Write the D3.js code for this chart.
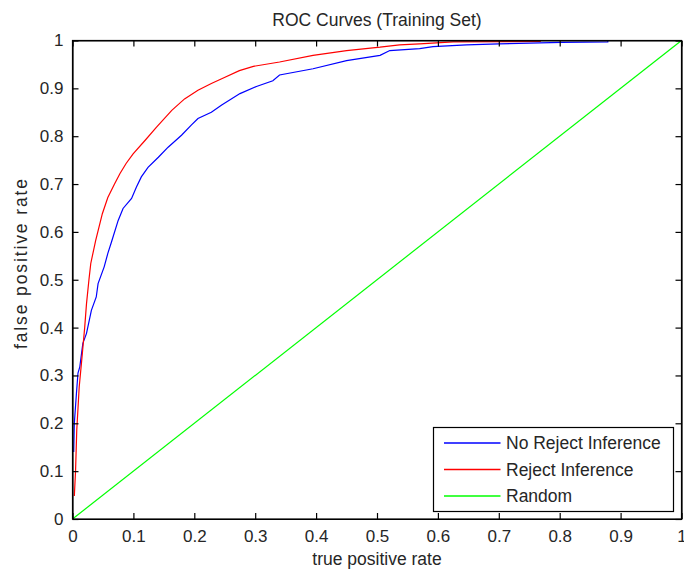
<!DOCTYPE html>
<html>
<head>
<meta charset="utf-8">
<script src="https://cdn.jsdelivr.net/npm/d3@7/dist/d3.min.js"></script>
<style>
  body { margin: 0; background: #fff; }
  svg text { font-family: "Liberation Sans", Arial, sans-serif; fill: #262626; }
</style>
</head>
<body>
<div id="chart"></div>
<script>
// ROC curve points (x = "true positive rate", y = "false positive rate")
const noRejectX = [0.002, 0.003, 0.0065, 0.009, 0.012, 0.017, 0.023, 0.031, 0.039, 0.042, 0.052, 0.058, 0.064, 0.075, 0.083, 0.097, 0.105, 0.113, 0.124, 0.141, 0.157, 0.179, 0.195, 0.206, 0.228, 0.245, 0.275, 0.302, 0.329, 0.340, 0.395, 0.45, 0.505, 0.521, 0.57, 0.592, 0.647, 0.70, 0.803, 0.879, 0.879, 1];
const noRejectY = [0.14, 0.20, 0.263, 0.305, 0.318, 0.367, 0.388, 0.436, 0.464, 0.492, 0.527, 0.555, 0.579, 0.624, 0.649, 0.67, 0.694, 0.715, 0.735, 0.756, 0.777, 0.802, 0.823, 0.837, 0.850, 0.865, 0.889, 0.904, 0.916, 0.928, 0.941, 0.958, 0.969, 0.979, 0.983, 0.987, 0.991, 0.993, 0.996, 0.997, 1, 1];

const rejectX = [0.003, 0.005, 0.007, 0.011, 0.015, 0.020, 0.023, 0.027, 0.030, 0.038, 0.049, 0.058, 0.069, 0.078, 0.088, 0.0995, 0.119, 0.138, 0.163, 0.184, 0.206, 0.228, 0.245, 0.274, 0.297, 0.340, 0.395, 0.45, 0.505, 0.537, 0.57, 0.625, 0.768, 0.768, 1];
const rejectY = [0.048, 0.10, 0.186, 0.276, 0.33, 0.40, 0.45, 0.5, 0.534, 0.582, 0.638, 0.672, 0.70, 0.722, 0.743, 0.763, 0.791, 0.819, 0.854, 0.878, 0.896, 0.91, 0.92, 0.937, 0.946, 0.955, 0.969, 0.979, 0.986, 0.991, 0.993, 0.997, 0.998, 1, 1];

const randomX = [0, 1];
const randomY = [0, 1];

const tickValues = [0, 0.1, 0.2, 0.3, 0.4, 0.5, 0.6, 0.7, 0.8, 0.9, 1];

const seriesNames = ["No Reject Inference", "Reject Inference", "Random"];
const seriesColors = ["#0000ff", "#ff0000", "#00ff00"];

const width = 684, height = 572;
const margin = { top: 40.5, right: 2.5, bottom: 53, left: 72.5 };
const innerW = width - margin.left - margin.right;
const innerH = height - margin.top - margin.bottom;

const svg = d3.select("#chart").append("svg")
    .attr("width", width)
    .attr("height", height);

const g = svg.append("g")
    .attr("transform", `translate(${margin.left},${margin.top})`);

const x = d3.scaleLinear().domain([0, 1]).range([0, innerW]);
const y = d3.scaleLinear().domain([0, 1]).range([innerH, 0]);

// white plot background
g.append("rect").attr("width", innerW).attr("height", innerH).attr("fill", "#fff");

const series = [
    d3.zip(noRejectX, noRejectY),
    d3.zip(rejectX, rejectY),
    d3.zip(randomX, randomY)
];

const line = d3.line().x(d => x(d[0])).y(d => y(d[1]));

// green first so the curves sit on top like the original
[2, 0, 1].forEach(i => {
    g.append("path")
        .datum(series[i])
        .attr("fill", "none")
        .attr("stroke", seriesColors[i])
        .attr("stroke-width", 1.2)
        .attr("d", line);
});

// axes with inward ticks on all sides (matlab style)
const fmt = d => d === 0 || d === 1 ? String(d) : d3.format(".1f")(d);
const tickSize = 6;

const xAxis = g.append("g").attr("transform", `translate(0,${innerH})`)
    .call(d3.axisBottom(x).tickValues(tickValues).tickFormat(fmt).tickSizeInner(-tickSize).tickSizeOuter(0).tickPadding(10));
const yAxis = g.append("g")
    .call(d3.axisLeft(y).tickValues(tickValues).tickFormat(fmt).tickSizeInner(-tickSize).tickSizeOuter(0).tickPadding(9));
g.append("g")
    .call(d3.axisTop(x).tickValues(tickValues).tickFormat("").tickSizeInner(-tickSize).tickSizeOuter(0));
g.append("g").attr("transform", `translate(${innerW},0)`)
    .call(d3.axisRight(y).tickValues(tickValues).tickFormat("").tickSizeInner(-tickSize).tickSizeOuter(0));

g.selectAll(".domain, .tick line").attr("stroke", "#000").attr("stroke-width", 1.2);
xAxis.selectAll("text").attr("font-size", 17).attr("dy", "0.75em");
yAxis.selectAll("text").attr("font-size", 17);

// box
g.append("rect").attr("width", innerW).attr("height", innerH)
    .attr("fill", "none").attr("stroke", "#000").attr("stroke-width", 1.2);

// title and axis labels
svg.append("text")
    .attr("x", margin.left + innerW / 2).attr("y", 26)
    .attr("text-anchor", "middle").attr("font-size", 17.5)
    .text("ROC Curves (Training Set)");

svg.append("text")
    .attr("x", margin.left + innerW / 2).attr("y", 565)
    .attr("text-anchor", "middle").attr("font-size", 17.5)
    .text("true positive rate");

svg.append("text")
    .attr("transform", "translate(27,264) rotate(-90)")
    .attr("text-anchor", "middle").attr("font-size", 17.5)
    .attr("textLength", 170).attr("lengthAdjust", "spacing")
    .text("false positive rate");

// legend
const legend = svg.append("g").attr("transform", "translate(433.5,427.5)");
legend.append("rect").attr("width", 240).attr("height", 84)
    .attr("fill", "#fff").attr("stroke", "#000").attr("stroke-width", 1.2);

seriesNames.forEach((name, i) => {
    const ly = 15.5 + i * 26.5;
    legend.append("line")
        .attr("x1", 10.5).attr("x2", 67).attr("y1", ly).attr("y2", ly)
        .attr("stroke", seriesColors[i]).attr("stroke-width", 1.5);
    legend.append("text").attr("x", 72.5).attr("y", ly).attr("dy", "0.35em")
        .attr("font-size", 17.5).text(name);
});
</script>
</body>
</html>
